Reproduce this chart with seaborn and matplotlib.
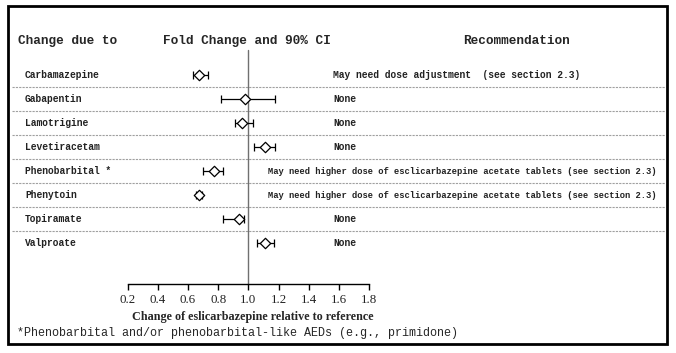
import matplotlib
matplotlib.use("Agg")
import matplotlib.pyplot as plt
import matplotlib.transforms as mtransforms
from matplotlib.patches import Rectangle
import seaborn as sns
import pandas as pd

# ---- data ----
drugs = ["Carbamazepine", "Gabapentin", "Lamotrigine", "Levetiracetam",
         "Phenobarbital *", "Phenytoin", "Topiramate", "Valproate"]
fold = [0.675, 0.98, 0.96, 1.11, 0.77, 0.675, 0.935, 1.11]
ci_low = [0.63, 0.82, 0.91, 1.04, 0.70, 0.655, 0.83, 1.055]
ci_high = [0.735, 1.18, 1.03, 1.18, 0.83, 0.695, 0.97, 1.17]
recommendations = [
    "May need dose adjustment  (see section 2.3)",
    "None",
    "None",
    "None",
    "May need higher dose of esclicarbazepine acetate tablets (see section 2.3)",
    "May need higher dose of esclicarbazepine acetate tablets (see section 2.3)",
    "None",
    "None",
]
xticks = [0.2, 0.4, 0.6, 0.8, 1.0, 1.2, 1.4, 1.6, 1.8]
xtick_labels = ["0.2", "0.4", "0.6", "0.8", "1.0", "1.2", "1.4", "1.6", "1.8"]
header_left = "Change due to"
header_mid = "Fold Change and 90% CI"
header_right = "Recommendation"
xlabel = "Change of eslicarbazepine relative to reference"
footnote = "*Phenobarbital and/or phenobarbital-like AEDs (e.g., primidone)"

df = pd.DataFrame({"drug": drugs, "fold": fold, "lo": ci_low, "hi": ci_high,
                   "row": list(range(len(drugs)))})

sns.set_theme(style="white")
plt.rcParams["font.family"] = ["Liberation Mono", "DejaVu Sans"]

W, H = 676, 353
fig = plt.figure(figsize=(W / 100, H / 100), dpi=100)
ax = fig.add_axes([0, 0, 1, 1])

# pixel-based layout mapping
px_per_unit = 150.8
x0_px = 127.7  # pixel of 0.2
row0_px, row_step = 75.0, 24.0
xmin = 0.2 - x0_px / px_per_unit
ax.set_xlim(xmin, 0.2 + (W - x0_px) / px_per_unit)
ax.set_ylim((H - row0_px) / row_step, (0 - row0_px) / row_step)
ax.set_facecolor("white")

pxT = mtransforms.Affine2D().scale(1 / W, -1 / H).translate(0, 1) + fig.transFigure

def py(p):  # pixel y -> data y
    return (p - row0_px) / row_step

# reference line at 1.0
ax.plot([1.0, 1.0], [py(50), py(284)], color="#707070", lw=1.0, zorder=1)

# separators
for i in range(len(drugs) - 1):
    ax.plot([xmin + 12 / px_per_unit, xmin + 665 / px_per_unit], [i + 0.5, i + 0.5],
            color="#a0a0a0", lw=0.8, ls=(0, (2, 1)), zorder=0)

# CI bars
ax.errorbar(df["fold"], df["row"],
            xerr=[df["fold"] - df["lo"], df["hi"] - df["fold"]],
            fmt="none", ecolor="black", elinewidth=0.9, capsize=3.2, capthick=0.9, zorder=2)
sns.scatterplot(data=df, x="fold", y="row", marker="D", s=28, color="white",
                edgecolor="black", linewidth=0.9, zorder=3, ax=ax, legend=False)

# axis
for s in ["top", "left", "right"]:
    ax.spines[s].set_visible(False)
ax.spines["bottom"].set_position(("data", py(284)))
ax.spines["bottom"].set_bounds(0.2, 1.8)
ax.spines["bottom"].set_color("black")
ax.spines["bottom"].set_linewidth(1.0)
ax.set_xticks(xticks)
ax.set_xticklabels(xtick_labels, family="Liberation Serif", fontsize=9.3, color="#222222")
ax.tick_params(axis="x", direction="out", length=4, width=1, color="black", pad=3, bottom=True)
ax.set_yticks([])
ax.set_xlabel("")
ax.set_ylabel("")

# labels and recommendations
for i, (d, r) in enumerate(zip(drugs, recommendations)):
    ax.text(25, row0_px + i * row_step, d, transform=pxT, va="center", ha="left",
            fontsize=6.9, fontweight="bold", color="#222222")
    if len(r) > 50:
        ax.text(268, row0_px + i * row_step, r, transform=pxT, va="center", ha="left",
                fontsize=6.35, fontweight="bold", color="#222222")
    else:
        ax.text(333, row0_px + i * row_step, r, transform=pxT, va="center", ha="left",
                fontsize=6.9, fontweight="bold", color="#222222")

# headers
ax.text(18, 41, header_left, transform=pxT, va="center", ha="left", fontsize=9.2, fontweight="bold")
ax.text(163, 41, header_mid, transform=pxT, va="center", ha="left", fontsize=9.2, fontweight="bold")
ax.text(463, 41, header_right, transform=pxT, va="center", ha="left", fontsize=9.2, fontweight="bold")

# x label & footnote
ax.text(253, 317, xlabel, transform=pxT, va="center", ha="center",
        family="Liberation Serif", fontsize=8.7, fontweight="bold")
ax.text(17, 333, footnote, transform=pxT, va="center", ha="left", fontsize=8.5)

# frame
fig.patches.append(Rectangle((8 / W, 1 - 344 / H), (667 - 8) / W, (344 - 6) / H,
                             transform=fig.transFigure, fill=False, ec="black", lw=2.0))

fig.savefig("out.png", dpi=100)
